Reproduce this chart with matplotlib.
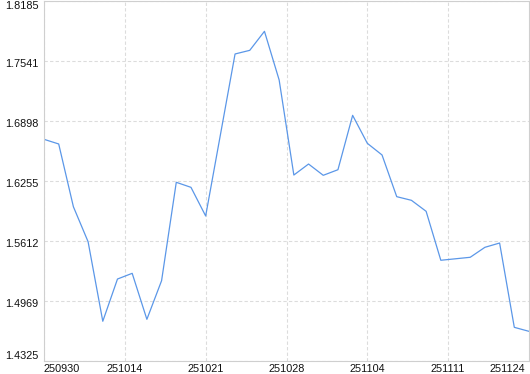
import matplotlib
matplotlib.use('Agg')
import matplotlib.pyplot as plt
import matplotlib.transforms as mtransforms

# daily values
values = [1.6702, 1.6652, 1.5979, 1.5604, 1.4751, 1.5204, 1.5265, 1.4772,
          1.5186, 1.6241, 1.6187, 1.5880, 1.6748, 1.7617, 1.7656, 1.7860,
          1.7338, 1.6319, 1.6437, 1.6316, 1.6376, 1.6959, 1.6659, 1.6534,
          1.6087, 1.6048, 1.5930, 1.5405, 1.5421, 1.5437, 1.5544, 1.5590,
          1.4686, 1.4643]
x_labels = ['250930', '251014', '251021', '251028', '251104', '251111', '251124']
y_ticks = [1.4325, 1.4969, 1.5612, 1.6255, 1.6898, 1.7541, 1.8185]
y_min, y_max = 1.4325, 1.8185

plt.rcParams['font.family'] = ['Liberation Sans', 'DejaVu Sans']

fig = plt.figure(figsize=(5.30, 3.74), dpi=100)
ax = fig.add_axes([44 / 530, 13 / 374, 485 / 530, 360 / 374])

n = len(values)
ax.plot(range(n), values, color='#5b97e8', linewidth=0.9)

ax.set_xlim(0, n - 1)
ax.set_ylim(y_min, y_max)

step = (n - 1) / 6
xt = [i * step for i in range(7)]
# last label sits a little inside the right edge
xt[-1] -= 0.28
ax.set_xticks(xt)
ax.set_xticklabels(x_labels)
ax.set_yticks(y_ticks)
ax.set_yticklabels(['%.4f' % v for v in y_ticks])

ax.grid(True, color='#dcdcdc', linestyle=(0, (3, 2)), linewidth=0.8)
ax.xaxis.get_gridlines()[-1].set_visible(False)
ax.tick_params(length=0, labelsize=7.8, colors='#111111', pad=2)
ax.tick_params(axis='y', pad=4)

xl = ax.get_xticklabels()
xl[0].set_ha('left')
xl[-1].set_ha('right')
yl = ax.get_yticklabels()
down = mtransforms.ScaledTranslation(0, -2 / 100, fig.dpi_scale_trans)
for t in yl[1:-1]:
    t.set_transform(t.get_transform() + down)
yl[0].set_va('bottom')
yl[-1].set_va('top')

for s in ax.spines.values():
    s.set_color('#cfcfcf')
    s.set_linewidth(0.8)

fig.savefig('out.png', dpi=100)
